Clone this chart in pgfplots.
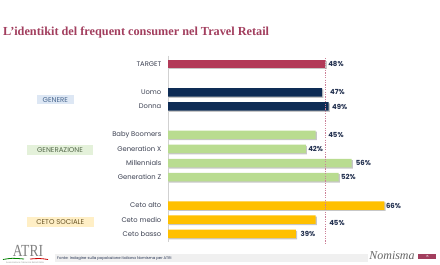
\documentclass[border=0pt]{standalone}
\usepackage{fontspec}
\setmainfont{Poppins}
\newfontfamily\titlefont{Liberation Serif}
\usepackage{pgfplots}
\pgfplotsset{compat=1.18}
\usetikzlibrary{shadows}
\definecolor{titlec}{HTML}{A23E5E}
\definecolor{targetc}{HTML}{B23A58}
\definecolor{navyc}{HTML}{0E2C55}
\definecolor{greenc}{HTML}{B9DC90}
\definecolor{orangec}{HTML}{FFC000}
\definecolor{labc}{HTML}{22304F}
\definecolor{tickc}{HTML}{3C4152}
\definecolor{bluebg}{HTML}{DDE7F4}
\definecolor{bluetx}{HTML}{4A6890}
\definecolor{greenbg}{HTML}{E4F1DA}
\definecolor{greentx}{HTML}{566A4C}
\definecolor{yellowbg}{HTML}{FFEFC6}
\definecolor{yellowtx}{HTML}{6A5628}
\definecolor{dashc}{HTML}{CC8098}
\begin{document}
\begin{tikzpicture}[x=1bp,y=1bp]
\useasboundingbox (0,0) rectangle (440,-264);
\fill[white] (0,0) rectangle (440,-264);
% title
\node[anchor=base west, inner sep=0pt, text=titlec, font=\titlefont\bfseries\fontsize{12.3}{13}\selectfont] at (3,-35.7) {L’identikit del frequent consumer nel Travel Retail};
% group boxes
\node[fill=bluebg, text=bluetx, minimum width=37.3bp, minimum height=9.3bp, inner sep=0pt, font=\fontsize{7}{8}\selectfont] at (55.3,-99.7) {GENERE};
\node[fill=greenbg, text=greentx, minimum width=66.6bp, minimum height=10bp, inner sep=0pt, font=\fontsize{7}{8}\selectfont] at (60,-150) {GENERAZIONE};
\node[fill=yellowbg, text=yellowtx, minimum width=67.3bp, minimum height=10bp, inner sep=0pt, font=\fontsize{7}{8}\selectfont] at (60.3,-221.7) {CETO SOCIALE};
% footer
\fill[black!6] (55,-254) rectangle (368,-261.5);
\node[anchor=base west, inner sep=0pt, text=labc, font=\fontsize{3.8}{4}\selectfont] at (57,-259.3) {Fonte: Indagine sulla popolazione italiana Nomisma per ATRI};
\node[anchor=base, inner sep=0pt, text=black!50, font=\titlefont\fontsize{17}{17}\selectfont, xscale=0.8] at (28,-256) {ATRI};
\draw[green!50!black, line width=0.8bp] (3,-259.5) .. controls (12,-258) .. (24,-259);
\draw[red!80!black, line width=0.8bp] (30,-259) .. controls (40,-258.3) .. (48,-259.5);
\node[anchor=base, inner sep=0pt, text=black!40, font=\fontsize{2.2}{2.5}\selectfont] at (25,-263) {Associazione Tabaccai Retail Italia};
\node[anchor=base, inner sep=0pt, text=black!60, font=\titlefont\itshape\fontsize{12}{12}\selectfont] at (392,-259.5) {Nomisma};
\fill[titlec] (418.3,-254) rectangle (436,-258.7);
\node[inner sep=0pt, text=white, font=\fontsize{2.8}{3}\selectfont] at (427.2,-256.35) {15};
\begin{axis}[
  at={(168bp,-49.85bp)}, anchor=north west,
  scale only axis, width=262.4bp, height=198.1bp,
  xmin=0, xmax=80, ymin=-1, ymax=13, y dir=reverse,
  axis line style={draw=none}, major tick length=0pt,
  xtick=\empty,
  ytick={0,2,3,5,6,7,8,10,11,12},
  yticklabels={TARGET,Uomo,Donna,Baby Boomers,Generation X,Millennials,Generation Z,Ceto alto,Ceto medio,Ceto basso},
  yticklabel style={font=\fontsize{6.8}{8}\selectfont, text=tickc, inner sep=0pt, anchor=east, xshift=-6.5bp},
  clip=false,
]
\draw[black!18, line width=0.5bp] (axis cs:0,-0.6) -- (axis cs:0,12.6);
\addplot[xbar, bar shift=0pt, bar width=8.5bp, draw=none, fill=targetc, drop shadow={shadow xshift=1.2bp, shadow yshift=-1.2bp, fill=black, opacity=0.22}] coordinates {(48,0)};
\addplot[xbar, bar shift=0pt, bar width=8.5bp, draw=none, fill=navyc, drop shadow={shadow xshift=1.2bp, shadow yshift=-1.2bp, fill=black, opacity=0.22}] coordinates {(47,2) (49,3)};
\addplot[xbar, bar shift=0pt, bar width=8.5bp, draw=none, fill=greenc, drop shadow={shadow xshift=1.2bp, shadow yshift=-1.2bp, fill=black, opacity=0.22}] coordinates {(45,5) (42,6) (56,7) (52,8)};
\addplot[xbar, bar shift=0pt, bar width=8.5bp, draw=none, fill=orangec, drop shadow={shadow xshift=1.2bp, shadow yshift=-1.2bp, fill=black, opacity=0.22}] coordinates {(66,10) (45,11) (39,12)};
\draw[dashc, line width=0.6bp, dash pattern=on 1.2bp off 1.2bp] (axis cs:48,-0.42) -- (axis cs:48,12.79);
\addplot[only marks, mark=none, point meta=explicit symbolic,
  nodes near coords={\pgfplotspointmeta\%},
  nodes near coords style={anchor=west, inner sep=0pt, font=\bfseries\fontsize{7}{8}\selectfont, text=labc}]
  table[meta=l] {
x y l
48.8 0 48
49.4 2 47
50.0 3 49
48.8 5 45
42.7 6 42
57.2 7 56
52.7 8 52
66.4 10 66
49.1 11.2 45
40.4 12 39
};
\end{axis}
\end{tikzpicture}
\end{document}
